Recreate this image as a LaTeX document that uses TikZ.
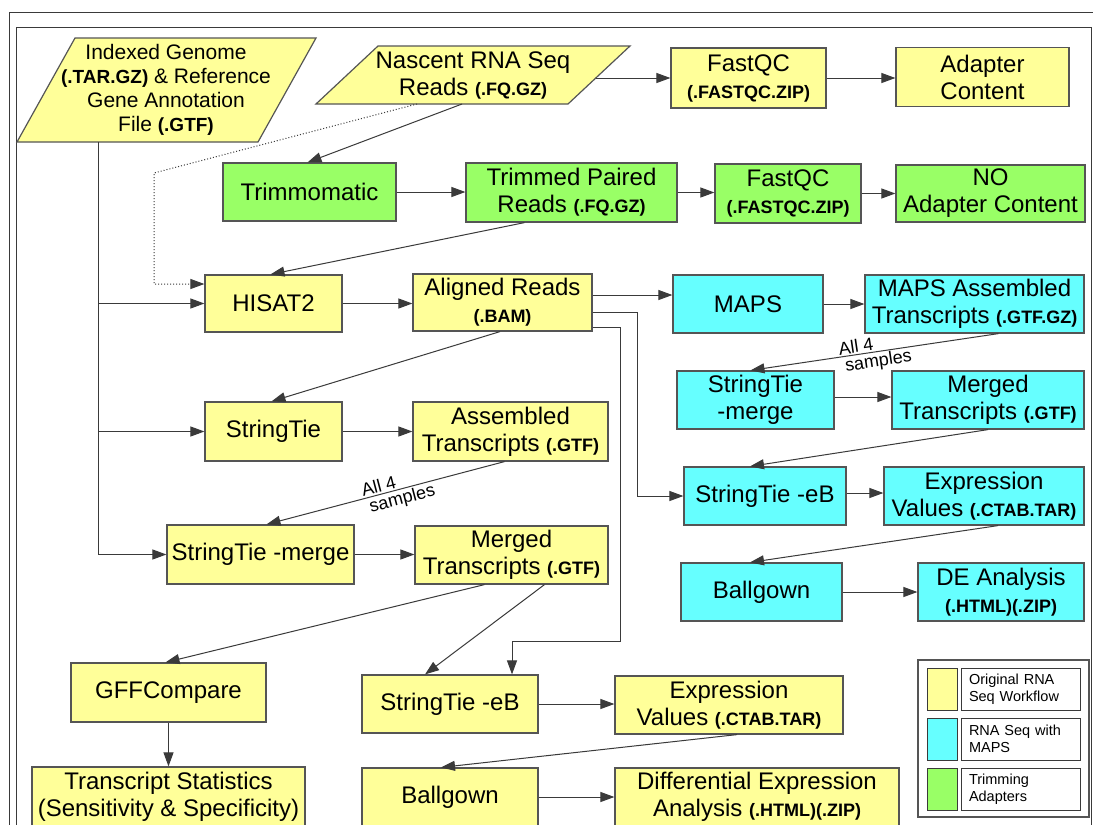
\documentclass[tikz,border=0pt]{standalone}
\usepackage{fontspec}
\setmainfont{Liberation Sans}
\usetikzlibrary{arrows.meta}
\definecolor{ylw}{HTML}{FFFF99}
\definecolor{cyn}{HTML}{66FFFF}
\definecolor{grn}{HTML}{99FF66}
\definecolor{boxline}{HTML}{555555}
\definecolor{linec}{HTML}{3A3A3A}
\newcommand\fext[1]{{\fontsize{18}{20}\selectfont\bfseries #1}}
\begin{document}
\begin{tikzpicture}[x=1pt,y=-1pt,
  box/.style={draw=boxline, line width=1.2pt, inner sep=0pt, align=center, font=\fontsize{24}{27}\selectfont},
  ybox/.style={box, fill=ylw},
  cbox/.style={box, fill=cyn},
  gbox/.style={box, fill=grn},
  pgram/.style={draw=boxline, line width=1.2pt, fill=ylw},
  ln/.style={draw=linec, line width=1pt},
  arr/.style={ln, -{Triangle[length=14pt,width=10pt]}},
  dotarr/.style={arr, dotted},
  lbl/.style={font=\fontsize{18}{18}\selectfont, sloped, inner sep=1.5pt},
  frame/.style={draw=linec, line width=1pt},
  legtext/.style={draw=linec, line width=1pt, fill=white, inner sep=0pt, minimum width=119pt, minimum height=42pt, text width=103pt, align=left, font=\fontsize{14.5}{17}\selectfont},
  swatch/.style={draw=linec, line width=1pt, minimum width=30pt, minimum height=42pt, inner sep=0pt}
]
\useasboundingbox (0,0) rectangle (1093,825);
\fill[white] (0,0) rectangle (1093,825);
% frames
\draw[frame] (9,850) -- (9,12) -- (1100,12);
\draw[frame] (16,850) -- (16,27) -- (1091,27) -- (1091,850);

% input parallelograms
\draw[pgram] (75,38) -- (316,38) -- (258,142) -- (17,142) -- cycle;
\node[align=center, inner sep=0pt, font=\fontsize{21}{24}\selectfont] (gen) at (166,90)
  {Indexed Genome\\{\fontsize{19}{24}\selectfont\bfseries (.TAR.GZ)} \& Reference\\Gene Annotation\\File {\fontsize{19}{24}\selectfont\bfseries (.GTF)}};
\draw[pgram] (378,46) -- (630,46) -- (568,104) -- (316,104) -- cycle;
\node[align=center, inner sep=0pt, font=\fontsize{24}{27}\selectfont] (nasc) at (473,75.5)
  {Nascent RNA Seq\\Reads \fext{(.FQ.GZ)}};
\coordinate (genB) at (98,142);
\coordinate (nascR) at (596,78);
\coordinate (nascB1) at (462,104);
\coordinate (nascB2) at (417,104);

% yellow/green top rows
\node[ybox, minimum width=155pt, minimum height=60pt] (fq1) at (748.5,78) {FastQC\\\fext{(.FASTQC.ZIP)}};
\node[ybox, minimum width=173pt, minimum height=59pt] (adapt) at (982.5,77) {Adapter\\Content};
\node[gbox, minimum width=173pt, minimum height=58pt] (trim) at (309.5,192) {Trimmomatic};
\node[gbox, minimum width=211pt, minimum height=59pt] (tpr) at (571.5,192.5) {Trimmed Paired\\Reads \fext{(.FQ.GZ)}};
\node[gbox, minimum width=146pt, minimum height=59pt] (fq2) at (788,193.5) {FastQC\\\fext{(.FASTQC.ZIP)}};
\node[gbox, minimum width=189pt, minimum height=57pt] (noad) at (990.5,193.5) {NO\\Adapter Content};

% yellow main
\node[ybox, minimum width=137pt, minimum height=57pt] (hisat) at (273.5,303.5) {HISAT2};
\node[ybox, minimum width=179pt, minimum height=57pt] (aligned) at (502.5,302.5) {Aligned Reads\\\fext{(.BAM)}};
\node[ybox, minimum width=137pt, minimum height=59pt] (st) at (273.5,431.5) {StringTie};
\node[ybox, minimum width=195pt, minimum height=59pt] (asm) at (510.5,431.5) {Assembled\\Transcripts \fext{(.GTF)}};
\node[ybox, minimum width=187pt, minimum height=59pt] (stm) at (260.5,554.5) {StringTie -merge};
\node[ybox, minimum width=193pt, minimum height=58pt] (merg) at (511.5,555) {Merged\\Transcripts \fext{(.GTF)}};
\node[ybox, minimum width=195pt, minimum height=59pt] (gff) at (168.5,692.5) {GFFCompare};
\node[ybox, minimum width=273pt, minimum height=59pt] (tstat) at (168.5,796.5) {Transcript Statistics\\(Sensitivity \& Specificity)};
\node[ybox, minimum width=176pt, minimum height=58pt] (steb) at (450,704) {StringTie -eB};
\node[ybox, minimum width=228pt, minimum height=58pt] (expr) at (729,705) {Expression\\Values \fext{(.CTAB.TAR)}};
\node[ybox, minimum width=176pt, minimum height=58pt] (ball) at (450,797) {Ballgown};
\node[ybox, minimum width=284pt, minimum height=58pt] (de) at (757,797) {Differential Expression\\Analysis \fext{(.HTML)(.ZIP)}};

% cyan
\node[cbox, minimum width=150pt, minimum height=58pt] (maps) at (748,304) {MAPS};
\node[cbox, minimum width=219pt, minimum height=58pt] (mapsasm) at (974.5,304) {MAPS Assembled\\Transcripts \fext{(.GTF.GZ)}};
\node[cbox, minimum width=157pt, minimum height=58pt] (stmc) at (755.5,400) {StringTie\\-merge};
\node[cbox, minimum width=192pt, minimum height=58pt] (mergc) at (988,400) {Merged\\Transcripts \fext{(.GTF)}};
\node[cbox, minimum width=162pt, minimum height=58pt] (stebc) at (765,496) {StringTie -eB};
\node[cbox, minimum width=200pt, minimum height=58pt] (exprc) at (984,496) {Expression\\Values \fext{(.CTAB.TAR)}};
\node[cbox, minimum width=161pt, minimum height=58pt] (ballc) at (761.5,592) {Ballgown};
\node[cbox, minimum width=166pt, minimum height=58pt] (dec) at (1001,592) {DE Analysis\\\fext{(.HTML)(.ZIP)}};

% connectors: genome
\draw[ln] (genB) -- (genB |- stm.west);
\draw[arr] (genB |- hisat.west) -- (hisat.west);
\draw[arr] (genB |- st.west) -- (st.west);
\draw[arr] (genB |- stm.west) -- (stm.west);
\draw[dotarr] (nascB2) -- (154,173) |- ([yshift=19.5pt]hisat.west);

% top rows
\draw[arr] (nascR) -- (nascR -| fq1.west);
\draw[arr] (fq1.east) -- (fq1.east -| adapt.west);
\draw[arr] (nascB1) -- ([xshift=-2pt]trim.north);
\draw[arr] (trim.east) -- (trim.east -| tpr.west);
\draw[arr] (tpr.east) -- (tpr.east -| fq2.west);
\draw[arr] (fq2.east) -- (fq2.east -| noad.west);
\draw[arr] ([xshift=-47pt]tpr.south) -- ([xshift=-3pt]hisat.north);

% main yellow
\draw[arr] (hisat.east) -- (hisat.east -| aligned.west);
\draw[arr] ([yshift=7.5pt]aligned.east) -- ([yshift=7.5pt]aligned.east -| maps.west);
\draw[arr] ([yshift=-9.5pt]aligned.east) -| ([xshift=-46pt]stebc.west) -- (stebc.west);
\coordinate (bend) at (620,641);
\draw[arr] ([yshift=-24.5pt]aligned.east) -| (bend) -| ([xshift=62pt]steb.north);
\draw[arr] ([xshift=-2.5pt]aligned.south) -- ([xshift=-2pt]st.north);
\draw[arr] (st.east) -- (st.east -| asm.west);
\draw[arr] ([xshift=-6pt]asm.south) --
  node[lbl, pos=0.52, above] (lblA1) {All 4}
  node[lbl, pos=0.44, below] (lblA2) {samples}
  ([xshift=6pt]stm.north);
\draw[arr] (stm.east) -- (stm.east -| merg.west);
\draw[arr] ([xshift=-27pt]merg.south) -- ([xshift=-3pt]gff.north);
\draw[arr] ([xshift=33pt]merg.south) -- ([xshift=-25pt]steb.north);
\draw[arr] (gff.south) -- (tstat.north);
\draw[arr] (steb.east) -- (steb.east -| expr.west);
\draw[arr] ([xshift=8pt]expr.south) -- ([xshift=-9pt]ball.north);
\draw[arr] (ball.east) -- (ball.east -| de.west);

% cyan connectors
\draw[arr] (maps.east) -- (maps.east -| mapsasm.west);
\draw[arr] ([xshift=24pt]mapsasm.south) --
  node[lbl, pos=0.57, above] (lblB1) {All 4}
  node[lbl, pos=0.49, below] (lblB2) {samples}
  ([xshift=-5pt]stmc.north);
\draw[arr] ([yshift=3pt]stmc.east) -- ([yshift=3pt]stmc.east -| mergc.west);
\draw[arr] (mergc.south) -- ([xshift=-15pt]stebc.north);
\draw[arr] ([yshift=3pt]stebc.east) -- ([yshift=3pt]stebc.east -| exprc.west);
\draw[arr] ([xshift=14pt]exprc.south) -- ([xshift=-11.5pt]ballc.north);
\draw[arr] (ballc.east) -- (ballc.east -| dec.west);

% legend
\node[draw=boxline, line width=1.2pt, fill=white, minimum width=171pt, minimum height=157pt, inner sep=0pt] (legend) at (1003.5,738.5) {};
\node[swatch, fill=ylw] (sw1) at (942,689) {};
\node[swatch, fill=cyn] (sw2) at (942,739) {};
\node[swatch, fill=grn] (sw3) at (942,789) {};
\node[legtext] (lt1) at (1020.5,689) {Original RNA\\Seq Workflow};
\node[legtext] (lt2) at (1020.5,739) {RNA Seq with\\MAPS};
\node[legtext] (lt3) at (1020.5,789) {Trimming\\Adapters};
\end{tikzpicture}
\end{document}
